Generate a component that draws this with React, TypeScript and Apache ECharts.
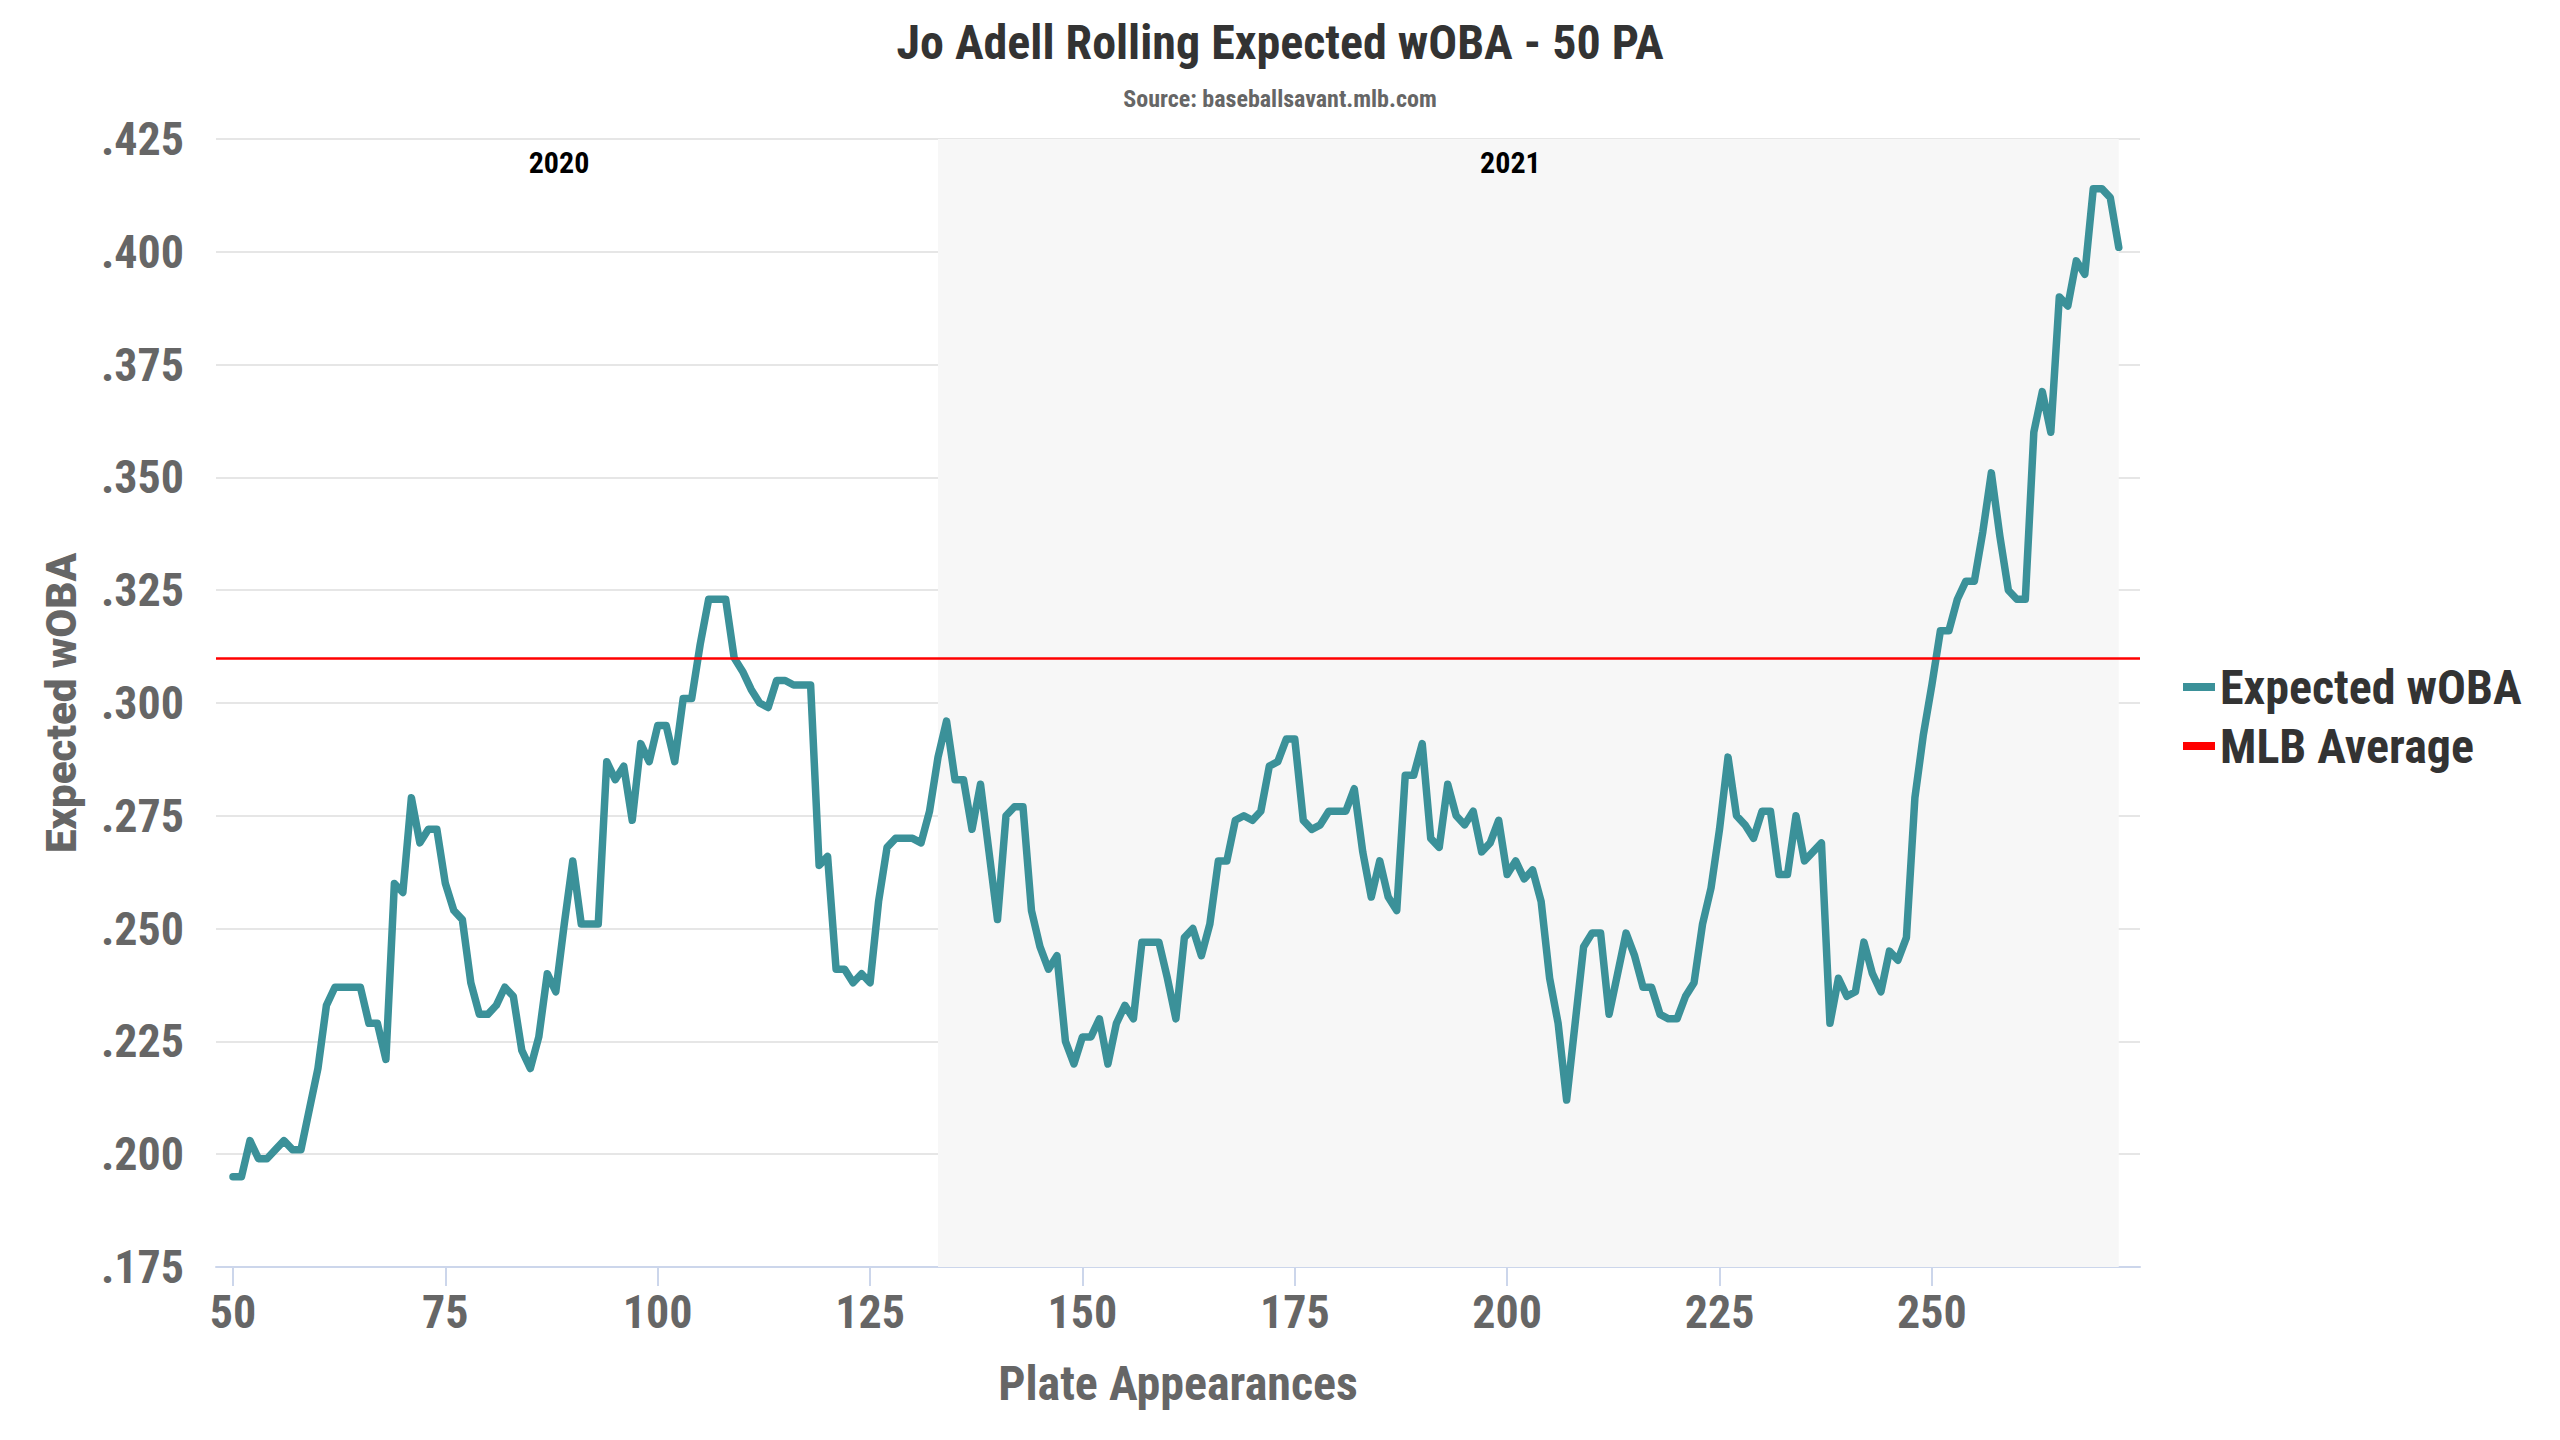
import { useEffect, useRef } from 'react'
import * as echarts from 'echarts'

// rolling 50 PA expected wOBA, one value per plate appearance starting at PA 50
const firstPA = 50
const xwoba = [
  0.195, 0.195, 0.203, 0.199, 0.199, 0.201, 0.203, 0.201, 0.201, 0.21,
  0.219, 0.233, 0.237, 0.237, 0.237, 0.237, 0.229, 0.229, 0.221, 0.26,
  0.258, 0.279, 0.269, 0.272, 0.272, 0.26, 0.254, 0.252, 0.238, 0.231,
  0.231, 0.233, 0.237, 0.235, 0.223, 0.219, 0.226, 0.24, 0.236, 0.251,
  0.265, 0.251, 0.251, 0.251, 0.287, 0.283, 0.286, 0.274, 0.291, 0.287,
  0.295, 0.295, 0.287, 0.301, 0.301, 0.313, 0.323, 0.323, 0.323, 0.31,
  0.307, 0.303, 0.3, 0.299, 0.305, 0.305, 0.304, 0.304, 0.304, 0.264,
  0.266, 0.241, 0.241, 0.238, 0.24, 0.238, 0.256, 0.268, 0.27, 0.27,
  0.27, 0.269, 0.276, 0.288, 0.296, 0.283, 0.283, 0.272, 0.282, 0.267,
  0.252, 0.275, 0.277, 0.277, 0.254, 0.246, 0.241, 0.244, 0.225, 0.22,
  0.226, 0.226, 0.23, 0.22, 0.229, 0.233, 0.23, 0.247, 0.247, 0.247,
  0.239, 0.23, 0.248, 0.25, 0.244, 0.251, 0.265, 0.265, 0.274, 0.275,
  0.274, 0.276, 0.286, 0.287, 0.292, 0.292, 0.274, 0.272, 0.273, 0.276,
  0.276, 0.276, 0.281, 0.267, 0.257, 0.265, 0.257, 0.254, 0.284, 0.284,
  0.291, 0.27, 0.268, 0.282, 0.275, 0.273, 0.276, 0.267, 0.269, 0.274,
  0.262, 0.265, 0.261, 0.263, 0.256, 0.239, 0.229, 0.212, 0.229, 0.246,
  0.249, 0.249, 0.231, 0.24, 0.249, 0.244, 0.237, 0.237, 0.231, 0.23,
  0.23, 0.235, 0.238, 0.251, 0.259, 0.272, 0.288, 0.275, 0.273, 0.27,
  0.276, 0.276, 0.262, 0.262, 0.275, 0.265, 0.267, 0.269, 0.229, 0.239,
  0.235, 0.236, 0.247, 0.24, 0.236, 0.245, 0.243, 0.248, 0.279, 0.293,
  0.304, 0.316, 0.316, 0.323, 0.327, 0.327, 0.338, 0.351, 0.337, 0.325,
  0.323, 0.323, 0.36, 0.369, 0.36, 0.39, 0.388, 0.398, 0.395, 0.414,
  0.414, 0.412, 0.401
]
const plateAppearances = xwoba.map((_, i) => firstPA + i)

const mlbAverage = 0.31
const seasons = [
  { name: '2020', from: 44, to: 133 },
  { name: '2021', from: 133, to: 272 }
]
const xTicks = [50, 75, 100, 125, 150, 175, 200, 225, 250]

const condensed =
  "'Roboto Condensed', 'Liberation Sans Narrow', 'DejaVu Sans Condensed', Roboto, sans-serif"

export default function App() {
  const chartRef = useRef<HTMLDivElement | null>(null)

  useEffect(() => {
    if (!chartRef.current) return
    const chart = echarts.init(chartRef.current, null, { renderer: 'svg' })

    const option = {
      animation: false,
      backgroundColor: '#ffffff',
      title: {
        text: 'Jo Adell Rolling Expected wOBA - 50 PA',
        subtext: 'Source: baseballsavant.mlb.com',
        left: 'center',
        top: 13,
        itemGap: 21,
        textStyle: {
          fontFamily: condensed,
          fontSize: 48,
          fontWeight: 'bold',
          color: '#333333',
          lineHeight: 48
        },
        subtextStyle: {
          fontFamily: condensed,
          fontSize: 24,
          fontWeight: 'bold',
          color: '#666666',
          lineHeight: 24
        }
      },
      legend: {
        orient: 'vertical',
        left: 2178,
        top: 657,
        icon: 'rect',
        itemWidth: 32,
        itemHeight: 8,
        itemGap: 9,
        textStyle: {
          fontFamily: condensed,
          fontSize: 48,
          fontWeight: 'bold',
          color: '#333333',
          lineHeight: 50
        },
        data: ['Expected wOBA', 'MLB Average']
      },
      grid: { left: 216, right: 420, top: 139, bottom: 173 },
      xAxis: {
        type: 'value',
        min: 48,
        max: 274.5,
        name: 'Plate Appearances',
        nameLocation: 'middle',
        nameGap: 92,
        nameTextStyle: {
          fontFamily: condensed,
          fontSize: 48,
          fontWeight: 'bold',
          color: '#666666'
        },
        axisLine: { show: true, lineStyle: { color: '#ccd6eb', width: 2 } },
        axisTick: {
          show: true,
          length: 19,
          customValues: xTicks,
          lineStyle: { color: '#ccd6eb', width: 2 }
        },
        axisLabel: {
          customValues: xTicks,
          margin: 22,
          fontFamily: condensed,
          fontSize: 46,
          fontWeight: 'bold',
          color: '#666666'
        },
        splitLine: { show: false }
      },
      yAxis: {
        type: 'value',
        min: 0.175,
        max: 0.425,
        interval: 0.025,
        name: 'Expected wOBA',
        nameLocation: 'middle',
        nameGap: 134,
        nameTextStyle: {
          fontFamily: 'Roboto, sans-serif',
          fontSize: 42,
          fontWeight: 900,
          color: '#666666'
        },
        axisLine: { show: false },
        axisTick: { show: false },
        axisLabel: {
          margin: 32,
          fontFamily: condensed,
          fontSize: 46,
          fontWeight: 'bold',
          color: '#666666',
          formatter: (v: number) => v.toFixed(3).replace(/^0/, '')
        },
        splitLine: { lineStyle: { color: '#e6e6e6', width: 2 } }
      },
      series: [
        {
          name: 'Expected wOBA',
          type: 'line',
          data: plateAppearances.map((pa, i) => [pa, xwoba[i]]),
          showSymbol: false,
          symbol: 'none',
          color: '#3b9199',
          lineStyle: { color: '#3b9199', width: 7.5, join: 'round', cap: 'round' },
          z: 3,
          markArea: {
            silent: true,
            label: {
              show: true,
              position: 'insideTop',
              distance: 8,
              offset: [-18, 0],
              fontFamily: condensed,
              fontSize: 30,
              fontWeight: 'bold',
              color: '#000000',
              lineHeight: 30
            },
            data: seasons.map((s, i) => [
              {
                name: s.name,
                xAxis: s.from,
                itemStyle: { color: i === 1 ? '#f7f7f7' : 'rgba(0,0,0,0)' }
              },
              { xAxis: s.to }
            ])
          }
        },
        {
          name: 'MLB Average',
          type: 'line',
          data: [],
          color: '#ff0000',
          lineStyle: { color: '#ff0000', width: 2.5 },
          z: 4,
          markLine: {
            silent: true,
            symbol: ['none', 'none'],
            label: { show: false },
            lineStyle: { color: '#ff0000', width: 2.5, type: 'solid' },
            data: [{ yAxis: mlbAverage }]
          }
        }
      ]
    }

    chart.setOption(option)

    return () => {
      chart.dispose()
    }
  }, [])

  return (
    <div
      ref={chartRef}
      style={{ position: 'fixed', left: 0, top: 0, width: 2560, height: 1440 }}
    />
  )
}
